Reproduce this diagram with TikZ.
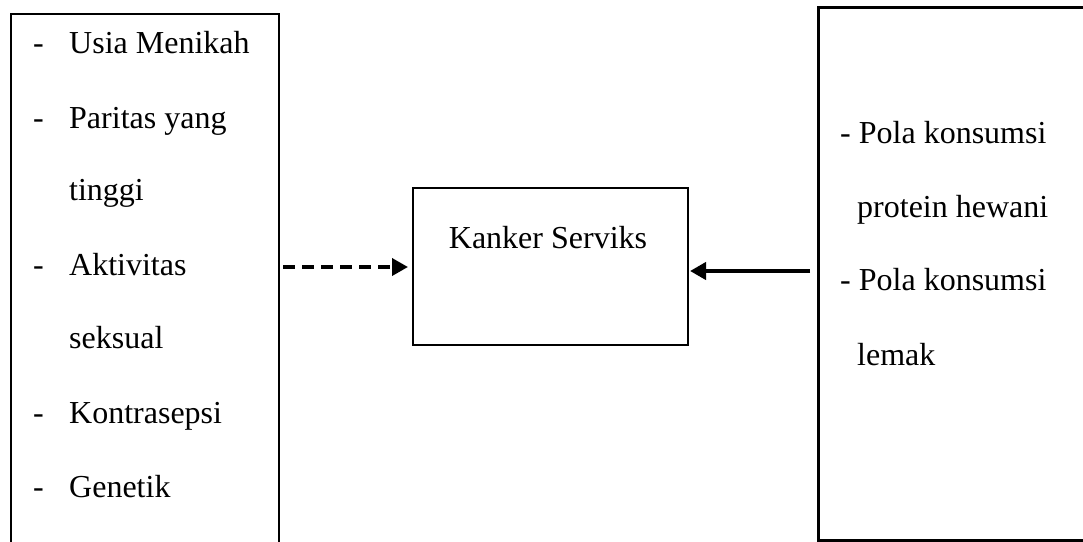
\documentclass[tikz,border=0pt]{standalone}
\usepackage{fontspec}
\setmainfont{Liberation Serif}
\usetikzlibrary{arrows.meta}

\tikzset{
  panel/.style={draw=black, line width=2pt, rectangle, inner sep=0pt, anchor=north west},
  item/.style={anchor=base west, inner sep=0pt},
  dasharrow/.style={line width=3.6pt, dash pattern=on 12pt off 7pt, -{Triangle[length=16pt,width=17pt]}},
  solidarrow/.style={line width=4pt, -{Triangle[length=16pt,width=17pt]}}
}

\begin{document}
\begin{tikzpicture}[x=1pt, y=-1pt, font=\fontsize{32}{32}\selectfont]
\useasboundingbox (0,0) rectangle (1083,541);

% three panels
\node[panel, minimum width=268pt, minimum height=560pt] (left) at (10,13) {};
\node[panel, minimum width=275pt, minimum height=157pt] (mid) at (412,187) {};
\node[panel, line width=3pt, minimum width=290pt, minimum height=533pt] (right) at (817,6) {};

% left list
\node[item] (d1) at (33,53) {-};
\node[item] (t1) at (69,53) {Usia Menikah};
\node[item] (d2) at (33,128) {-};
\node[item] (t2) at (69,128) {Paritas yang};
\node[item] (t2b) at (69,200) {tinggi};
\node[item] (d3) at (33,275) {-};
\node[item] (t3) at (69,275) {Aktivitas};
\node[item] (t3b) at (69,348) {seksual};
\node[item] (d4) at (33,423) {-};
\node[item] (t4) at (69,423) {Kontrasepsi};
\node[item] (d5) at (33,497) {-};
\node[item] (t5) at (69,497) {Genetik};

% centre label
\node[anchor=base, inner sep=0pt] (ks) at (548,248) {Kanker Serviks};

% right list
\node[item] (r1) at (840,143) {- Pola konsumsi};
\node[item] (r1b) at (857,217) {protein hewani};
\node[item] (r2) at (840,290) {- Pola konsumsi};
\node[item] (r2b) at (857,365) {lemak};

% connectors
\coordinate (dy) at (0,267);
\coordinate (sy) at (0,271);
\draw[dasharrow, shorten <=3pt, shorten >=4pt] (left.east |- dy) -- (mid.west |- dy);
\draw[solidarrow, shorten <=7pt, shorten >=1pt] (right.west |- sy) -- (mid.east |- sy);
\end{tikzpicture}
\end{document}
